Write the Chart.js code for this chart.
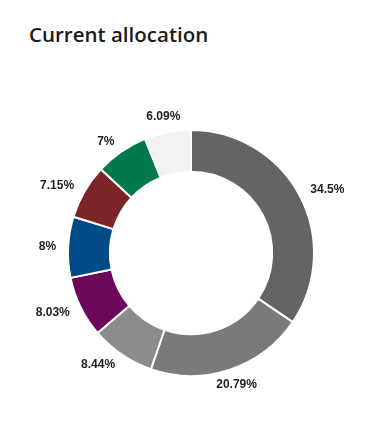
<!DOCTYPE html>
<html>
<head>
<meta charset="utf-8">
<script src="https://cdn.jsdelivr.net/npm/chart.js@4"></script>
<style>
  html, body { margin: 0; padding: 0; background: #fff; }
  #wrap { position: relative; width: 391px; height: 427px; }
  h2 {
    position: absolute; left: 29px; top: 20px; margin: 0;
    font: 600 20.5px "Open Sans", sans-serif; color: #1b1b1b;
  }
  canvas { position: absolute; left: 0; top: 0; }
</style>
</head>
<body>
<div id="wrap">
  <h2>Current allocation</h2>
  <canvas id="allocationChart" width="391" height="427"></canvas>
</div>
<script>
// slices, clockwise from 12 o'clock
const categories = ['A', 'B', 'C', 'D', 'E', 'F', 'G', 'H'];
const shares = [34.5, 20.79, 8.44, 8.03, 8, 7.15, 7, 6.09];
const sliceColors = ['#646464', '#7a7a7a', '#8c8c8c', '#6b0857', '#004b87', '#7b2528', '#007a4b', '#f2f2f2'];

// draws the percent label just outside each slice
const outsideLabels = {
  id: 'outsideLabels',
  afterDatasetsDraw(chart) {
    const ctx = chart.ctx;
    const arcs = chart.getDatasetMeta(0).data;
    ctx.save();
    ctx.font = 'bold 12px "Liberation Sans", Arial, sans-serif';
    ctx.fillStyle = '#222';
    ctx.textBaseline = 'middle';
    arcs.forEach((arc, i) => {
      const p = arc.getProps(['x', 'y', 'startAngle', 'endAngle', 'outerRadius'], true);
      const mid = (p.startAngle + p.endAngle) / 2;
      const r = p.outerRadius + 12;
      const cx = Math.cos(mid), cy = Math.sin(mid);
      let x = p.x + cx * r;
      let y = p.y + cy * r;
      if (Math.abs(cx) < 0.35) {
        ctx.textAlign = 'center';
        y += cy > 0 ? 4 : -4;
        x += cy > 0 ? 3 : -2;
      } else {
        ctx.textAlign = cx > 0 ? 'left' : 'right';
      }
      ctx.fillText(shares[i] + '%', x, y);
    });
    ctx.restore();
  }
};

const ctx = document.getElementById('allocationChart').getContext('2d');
const allocationChart = new Chart(ctx, {
  type: 'doughnut',
  data: {
    labels: categories,
    datasets: [{
      data: shares,
      backgroundColor: sliceColors,
      borderColor: '#ffffff',
      borderWidth: 2
    }]
  },
  options: {
    responsive: false,
    animation: false,
    cutout: '66%',
    layout: { padding: { left: 67, right: 76, top: 129, bottom: 50 } },
    plugins: {
      legend: { display: false },
      tooltip: { enabled: false }
    }
  },
  plugins: [outsideLabels]
});
</script>
</body>
</html>
